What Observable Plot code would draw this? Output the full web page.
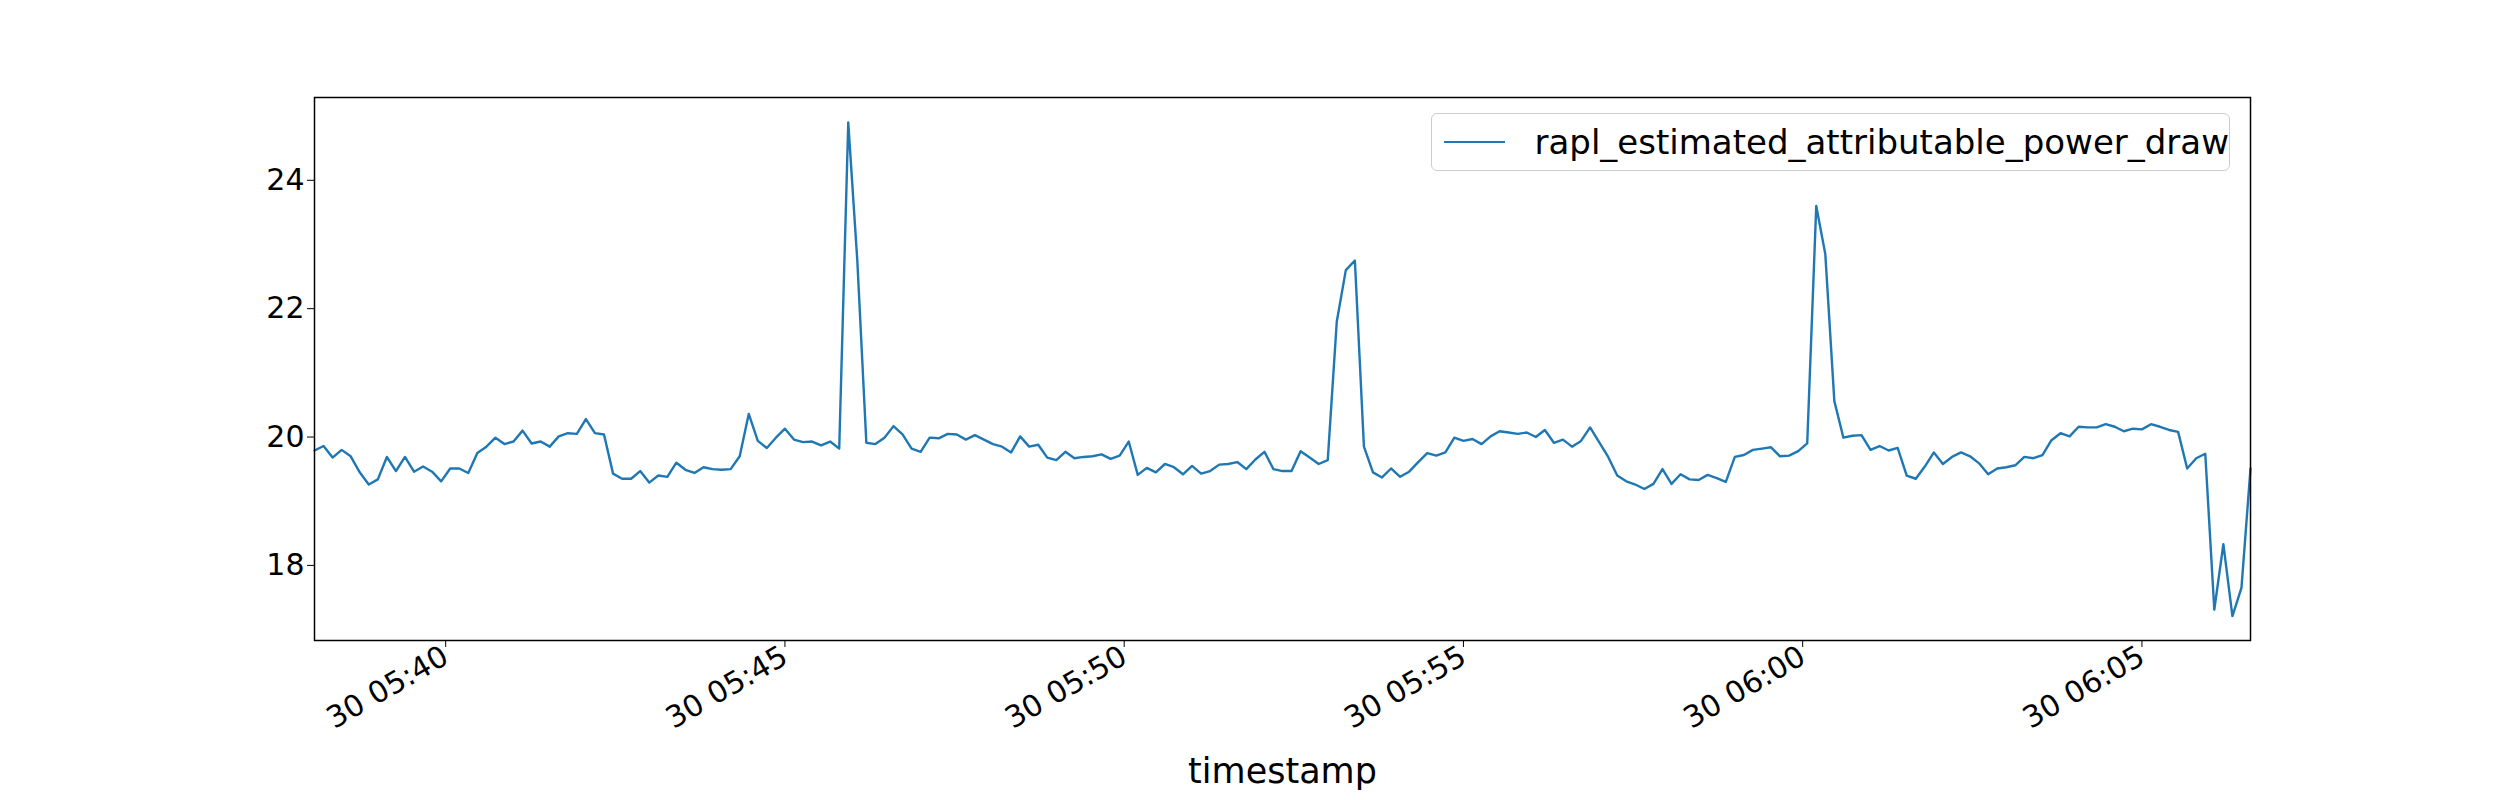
<!DOCTYPE html>
<html><head><meta charset="utf-8">
<script src="https://cdn.jsdelivr.net/npm/d3@7"></script>
<script src="https://cdn.jsdelivr.net/npm/@observablehq/plot@0.6"></script>
<style>body{margin:0;background:#fff;font-family:"DejaVu Sans";}#wrap{position:relative;width:2500px;height:800px;}
#legend{position:absolute;left:1431px;top:113px;width:799px;height:58px;border:1.5px solid #ccc;border-radius:6px;background:#fff;box-sizing:border-box;font:34px "DejaVu Sans";display:flex;align-items:center;}
#legend span.sw{display:inline-block;width:64px;height:0;border-top:2.4px solid #1f77b4;margin:0 30px 0 12px;}</style>
</head><body><div id="wrap"><div id="legend"><span class="sw"></span>rapl_estimated_attributable_power_draw</div></div>
<script>
const startTime = "2023-05-30T05:38:04Z";
const stepSeconds = 8;
const seriesName = "rapl_estimated_attributable_power_draw";
const power = [
19.79,19.86,19.68,19.80,19.70,19.45,19.26,19.34,19.69,19.47,19.69,19.46,19.54,19.46,19.31,19.51,19.51,19.44,19.75,19.85,19.99,19.89,19.93,20.10,19.90,19.93,19.85,20.01,20.06,20.05,20.28,20.06,20.04,19.43,19.35,19.35,19.47,19.29,19.40,19.38,19.60,19.49,19.44,19.53,19.50,19.49,19.50,19.70,20.36,19.94,19.83,19.99,20.13,19.96,19.92,19.93,
19.87,19.93,19.82,24.9,22.75,
19.91,19.89,19.99,20.17,20.04,19.82,19.77,19.99,19.98,20.05,20.04,19.96,20.03,19.96,19.89,19.85,19.76,20.01,19.85,19.88,19.68,19.64,19.77,19.67,19.69,19.70,19.73,19.66,19.71,19.93,19.41,19.52,19.45,19.58,19.53,19.42,19.55,19.43,19.47,19.57,19.58,19.61,19.50,19.65,19.77,19.50,19.47,19.47,19.78,
19.68,19.58,19.64,21.8,22.6,22.75,19.85,
19.45,19.37,19.51,19.38,19.46,19.61,19.75,19.71,19.76,19.99,19.94,19.97,19.89,20.01,20.09,20.07,20.05,20.07,20.00,20.11,19.91,19.96,19.85,19.94,20.15,19.92,19.69,19.40,19.31,19.26,19.19,19.27,19.50,19.27,19.42,19.34,19.33,19.41,19.36,19.30,19.69,19.72,19.80,19.82,19.84,19.70,19.71,
19.78,19.90,23.6,22.85,20.56,
19.99,20.02,20.03,19.80,19.86,19.79,19.83,19.40,19.35,19.54,19.76,19.58,19.69,19.76,19.70,19.59,19.42,19.51,19.53,19.56,19.69,19.67,19.72,19.95,20.06,20.01,20.16,20.15,20.15,20.20,20.16,20.09,20.13,20.12,20.20,20.16,20.11,20.08,19.51,19.67,19.74,17.31,18.33,17.21,17.65,19.51
];
const yTicks = [18, 20, 22, 24];
const t0 = new Date(startTime).getTime();
const data = power.map((v, i) => ({t: new Date(t0 + i * stepSeconds * 1000), v}));
const chart = Plot.plot({
  width: 2500, height: 800,
  marginLeft: 314, marginRight: 250, marginTop: 97, marginBottom: 160,
  style: {fontFamily: "DejaVu Sans", fontSize: "30px", color: "#000", background: "transparent"},
  x: {type: "utc", domain: [data[0].t, data[data.length-1].t], ticks: d3.utcMinute.every(5),
      tickFormat: d3.utcFormat("%d %H:%M"), tickRotate: -30, tickSize: 7, label: null},
  y: {domain: [16.83, 25.29], ticks: yTicks, tickSize: 7, label: null, tickFormat: d => d},
  marks: [
    Plot.line(data, {x: "t", y: "v", stroke: "#1f77b4", strokeWidth: 2.4}),
    Plot.frame({stroke: "#000", strokeWidth: 1.5}),
    Plot.text(["timestamp"], {frameAnchor: "bottom", dy: 142, fontSize: 35, fill: "#000"})
  ]
});
d3.select(chart).style("position","absolute").style("left","0").style("top","0");
document.getElementById("wrap").prepend(chart);
</script></body></html>
